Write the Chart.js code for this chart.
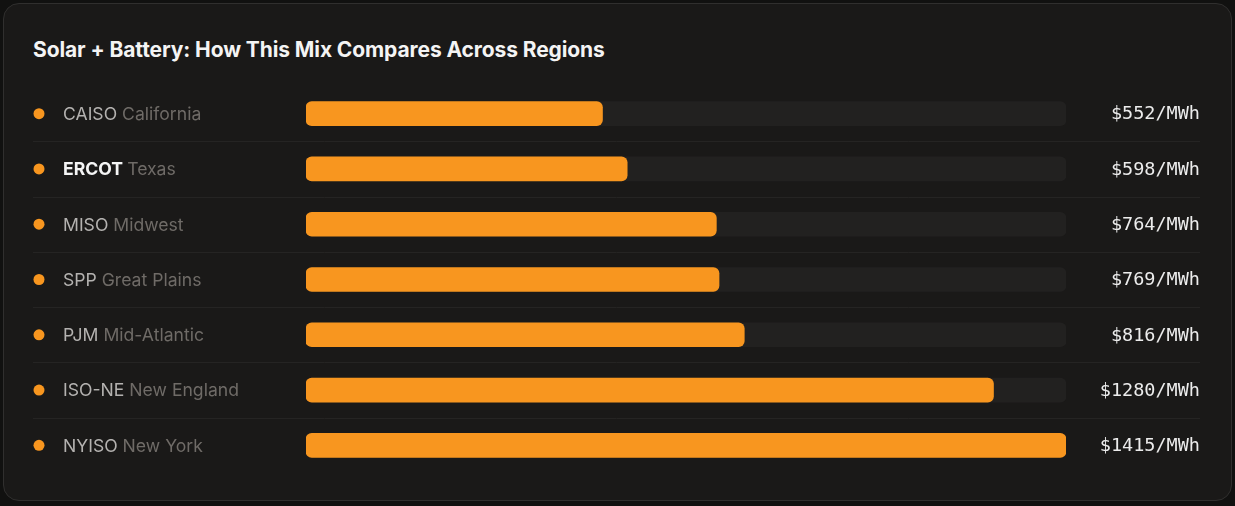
<!DOCTYPE html>
<html lang="en">
  <head>
    <meta charset="UTF-8" />
    <title>Solar + Battery: How This Mix Compares Across Regions</title>
    <script src="https://cdn.jsdelivr.net/npm/chart.js"></script>
    <style>
      html, body { margin: 0; padding: 0; background: #111110; }
      body { width: 1235px; height: 506px; position: relative; overflow: hidden; font-family: Inter, "Noto Sans", sans-serif; }
      .card {
        position: absolute; left: 3px; top: 3px; width: 1227px; height: 496px;
        background: #1a1918; border: 1px solid #302f2e; border-radius: 16px;
      }
      h1 {
        position: absolute; left: 33px; top: 37px; margin: 0;
        font-size: 21px; font-weight: 700; color: #f4f4f4; letter-spacing: -0.1px;
      }
      #chartWrap { position: absolute; left: 0; top: 0; width: 1235px; height: 506px; }
    </style>
  </head>
  <body>
    <div class="card"></div>
    <h1>Solar + Battery: How This Mix Compares Across Regions</h1>
    <div id="chartWrap"><canvas id="mixChart"></canvas></div>

    <script>
      // region codes, names and cost per MWh
      const codes = ["CAISO", "ERCOT", "MISO", "SPP", "PJM", "ISO-NE", "NYISO"];
      const regions = ["California", "Texas", "Midwest", "Great Plains", "Mid-Atlantic", "New England", "New York"];
      const costs = [552, 598, 764, 769, 816, 1280, 1415];
      const highlighted = "ERCOT";

      const maxCost = Math.max(...costs);
      const trackValues = costs.map(() => maxCost);

      const orange = "#f8961f";
      const labelFont = "17.6px Inter, 'Noto Sans', sans-serif";

      // separators, dots, names and values around the bars
      const rowsPlugin = {
        id: "rows",
        beforeDatasetsDraw(chart) {
          const ctx = chart.ctx;
          const y = chart.scales.y;
          ctx.save();
          ctx.strokeStyle = "#252423";
          ctx.lineWidth = 1;
          for (let i = 0; i < codes.length - 1; i++) {
            const yy = Math.round((y.getPixelForValue(i) + y.getPixelForValue(i + 1)) / 2) + 0.5;
            ctx.beginPath();
            ctx.moveTo(33, yy);
            ctx.lineTo(1200, yy);
            ctx.stroke();
          }
          ctx.restore();
        },
        afterDatasetsDraw(chart) {
          const ctx = chart.ctx;
          const y = chart.scales.y;
          ctx.save();
          ctx.textBaseline = "middle";
          codes.forEach((code, i) => {
            const cy = y.getPixelForValue(i);
            ctx.fillStyle = orange;
            ctx.beginPath();
            ctx.arc(39, cy, 5.5, 0, Math.PI * 2);
            ctx.fill();

            const hi = code === highlighted;
            ctx.textAlign = "left";
            ctx.font = (hi ? "700 " : "400 ") + labelFont;
            ctx.fillStyle = hi ? "#f5f5f5" : "#b4b2b0";
            ctx.fillText(code, 63, cy + 1);
            const w = ctx.measureText(code + " ").width;
            ctx.font = "400 " + labelFont;
            ctx.fillStyle = "#6f6b67";
            ctx.fillText(regions[i], 63 + w, cy + 1);

            ctx.textAlign = "right";
            ctx.font = "18.5px 'DejaVu Sans Mono', monospace";
            ctx.fillStyle = "#ececec";
            ctx.fillText("$" + costs[i] + "/MWh", 1200, cy + 1);
          });
          ctx.restore();
        },
      };

      const ctx = document.getElementById("mixChart").getContext("2d");
      new Chart(ctx, {
        type: "bar",
        data: {
          labels: codes,
          datasets: [
            {
              label: "Cost",
              data: costs,
              backgroundColor: orange,
              borderRadius: 6,
              borderSkipped: false,
              barThickness: 24,
              grouped: false,
            },
            {
              label: "Track",
              data: trackValues,
              backgroundColor: "#222120",
              borderRadius: 6,
              borderSkipped: false,
              barThickness: 24,
              grouped: false,
            },
          ],
        },
        options: {
          indexAxis: "y",
          responsive: true,
          maintainAspectRatio: false,
          animation: false,
          layout: { padding: { left: 306, right: 169, top: 86, bottom: 33 } },
          scales: {
            x: { display: false, min: 0, max: maxCost },
            y: { display: false },
          },
          plugins: { legend: { display: false }, tooltip: { enabled: false } },
        },
        plugins: [rowsPlugin],
      });
    </script>
  </body>
</html>
